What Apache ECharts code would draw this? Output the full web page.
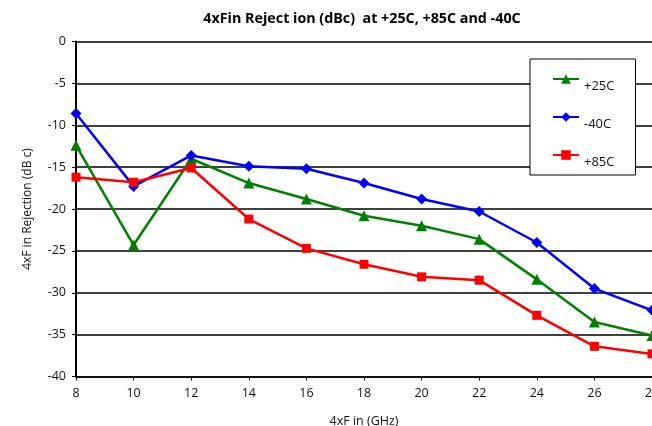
<!DOCTYPE html>
<html><head><meta charset="utf-8">
<script src="https://cdn.jsdelivr.net/npm/echarts@6/dist/echarts.min.js"></script>
<style>html,body{margin:0;padding:0;background:#fff}#c{width:652px;height:426px}</style>
</head><body><div id="c"></div>
<script>
const freqs = [8, 10, 12, 14, 16, 18, 20, 22, 24, 26, 28];
const s25 = [-12.4, -24.3, -14.0, -16.9, -18.8, -20.8, -22.0, -23.6, -28.4, -33.5, -35.1];
const sM40 = [-8.6, -17.3, -13.6, -14.9, -15.2, -16.9, -18.8, -20.3, -24.0, -29.5, -32.1];
const s85 = [-16.2, -16.8, -15.1, -21.2, -24.7, -26.6, -28.1, -28.5, -32.7, -36.4, -37.3];
const names = ['+25C', '-40C', '+85C'];

const font = 'Open Sans';
const pair = (arr) => freqs.map((f, i) => [f, arr[i]]);
const chart = echarts.init(document.getElementById('c'), null, {renderer: 'canvas'});
chart.setOption({
  animation: false,
  textStyle: {fontFamily: font},
  title: {
    text: '4xFin Reject ion (dBc)  at +25C, +85C and -40C',
    left: 357, top: 7, textAlign: 'center',
    textStyle: {fontFamily: font, fontSize: 14.3, fontWeight: 'bold', color: '#000'}
  },
  legend: {
    data: names,
    orient: 'vertical',
    left: 530, top: 59,
    padding: [6, 21, 6, 22],
    itemWidth: 26, itemHeight: 12,
    itemGap: 10,
    borderColor: '#000', borderWidth: 1,
    backgroundColor: '#fff',
    formatter: (n) => '\n' + n,
    textStyle: {fontFamily: font, fontSize: 13, color: '#111', lineHeight: 14}
  },
  grid: {left: 76, top: 41.5, right: 0, bottom: 49.5, containLabel: false, outerBoundsMode: 'none'},
  xAxis: {
    type: 'value', min: 8, max: 28, interval: 2,
    name: '4xF in (GHz)', nameLocation: 'middle', nameGap: 38,
    nameTextStyle: {fontFamily: font, fontSize: 12.5, color: '#111'},
    axisLine: {show: true, onZero: false, lineStyle: {color: '#000', width: 1.5}},
    axisTick: {show: true, length: 4, lineStyle: {color: '#000'}},
    axisLabel: {fontFamily: font, fontSize: 12.5, color: '#111', margin: 10},
    splitLine: {show: false}
  },
  yAxis: {
    type: 'value', min: -40, max: 0, interval: 5,
    name: '4xF in Rejection (dB c)', nameLocation: 'middle', nameGap: 42,
    nameTextStyle: {fontFamily: font, fontSize: 12, color: '#111'},
    axisLine: {show: true, onZero: false, lineStyle: {color: '#000', width: 2}},
    axisTick: {show: true, length: 4, lineStyle: {color: '#000'}},
    axisLabel: {fontFamily: font, fontSize: 12.5, color: '#111', margin: 10},
    splitLine: {show: true, lineStyle: {color: '#000', width: 1.5}}
  },
  series: [
    {name: '+25C', type: 'line', data: pair(s25), symbol: 'triangle', symbolSize: 11,
     lineStyle: {color: '#008000', width: 2.5}, itemStyle: {color: '#008000'}, z: 3},
    {name: '-40C', type: 'line', data: pair(sM40), symbol: 'diamond', symbolSize: 11,
     lineStyle: {color: '#0000ff', width: 2.5}, itemStyle: {color: '#0000ff'}, z: 4},
    {name: '+85C', type: 'line', data: pair(s85), symbol: 'rect', symbolSize: 9,
     lineStyle: {color: '#ff0000', width: 2.5}, itemStyle: {color: '#ff0000'}, z: 5}
  ]
});
</script></body></html>
